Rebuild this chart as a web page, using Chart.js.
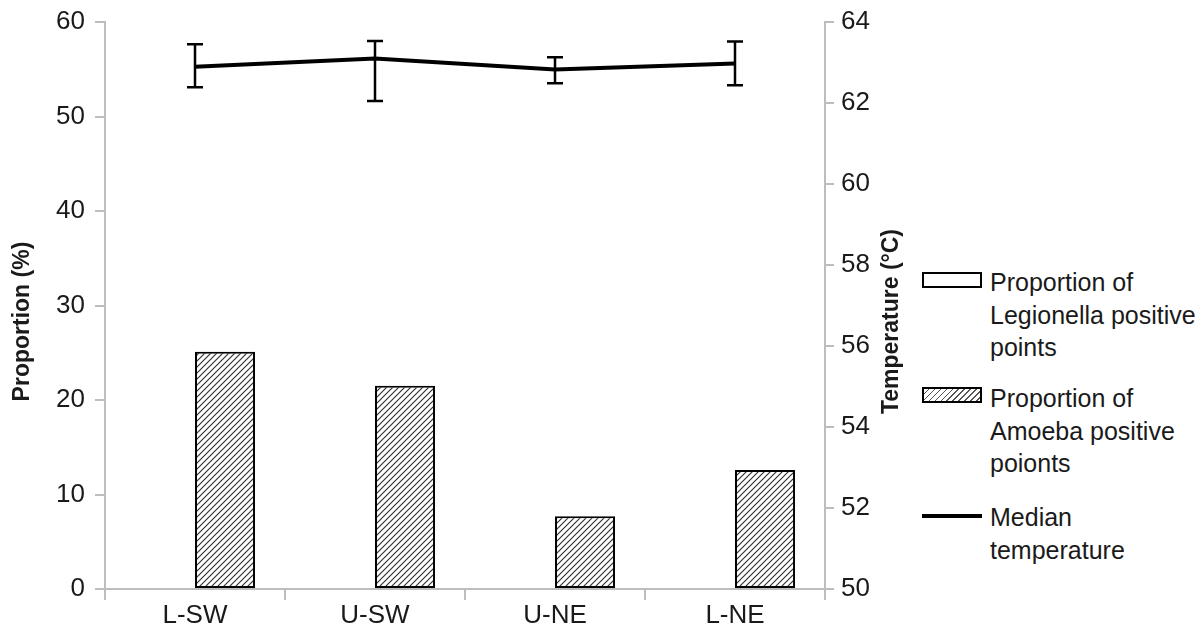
<!DOCTYPE html>
<html>
<head>
<meta charset="utf-8">
<script src="https://cdn.jsdelivr.net/npm/chart.js@4"></script>
<style>
  body { margin: 0; background: #fff; font-family: "Liberation Sans", Arial, sans-serif; }
  #wrap { position: relative; width: 1204px; height: 636px; }
  #box { position: absolute; left: 0; top: 0; width: 915px; height: 636px; }
  .item { position: absolute; left: 922px; font-size: 25px; line-height: 32.5px; color: #1a1a1a; }
  .item .sym { position: absolute; left: 0; width: 60px; height: 16px; box-sizing: border-box; }
  .item .txt { position: absolute; left: 68px; white-space: nowrap; }
</style>
</head>
<body>
<div id="wrap">
  <div id="box"><canvas id="myChart" width="915" height="636"></canvas></div>
  <div id="legend"></div>
</div>
<script>
var labels = ["L-SW", "U-SW", "U-NE", "L-NE"];
var legionella = [0, 0, 0, 0];
var amoeba = [25.1, 21.5, 7.7, 12.6];
var medianTemp = [62.9, 63.1, 62.83, 62.98];
var tempLow = [62.39, 62.05, 62.49, 62.44];
var tempHigh = [63.45, 63.53, 63.13, 63.52];
var leftTicks = [0, 60, 10];
var rightTicks = [50, 64, 2];
var leftTitle = "Proportion (%)";
var rightTitle = "Temperature (°C)";

// hatch fill
function makeHatch() {
  var c = document.createElement("canvas");
  c.width = 6;
  c.height = 6;
  var g = c.getContext("2d");
  g.fillStyle = "#fff";
  g.fillRect(0, 0, 6, 6);
  g.strokeStyle = "#333";
  g.lineWidth = 1.2;
  g.beginPath();
  g.moveTo(0, 6); g.lineTo(6, 0);
  g.moveTo(-1, 1); g.lineTo(1, -1);
  g.moveTo(5, 7); g.lineTo(7, 5);
  g.stroke();
  return g.createPattern(c, "repeat");
}
var hatch = makeHatch();

var errorBars = {
  id: "errorBars",
  afterDatasetsDraw: function (chart) {
    var meta = chart.getDatasetMeta(2);
    var ys = chart.scales.y2;
    var ctx = chart.ctx;
    ctx.save();
    ctx.strokeStyle = "#000";
    ctx.lineWidth = 2.5;
    meta.data.forEach(function (pt, i) {
      var top = ys.getPixelForValue(tempHigh[i]);
      var bot = ys.getPixelForValue(tempLow[i]);
      ctx.beginPath();
      ctx.moveTo(pt.x, top); ctx.lineTo(pt.x, bot);
      ctx.moveTo(pt.x - 8, top); ctx.lineTo(pt.x + 8, top);
      ctx.moveTo(pt.x - 8, bot); ctx.lineTo(pt.x + 8, bot);
      ctx.stroke();
    });
    ctx.restore();
  }
};

// both axis titles read bottom to top, like the original
var axisTitles = {
  id: "axisTitles",
  afterDraw: function (chart) {
    var ctx = chart.ctx;
    var a = chart.chartArea;
    var cy = (a.top + a.bottom) / 2 + 16;
    ctx.save();
    ctx.fillStyle = "#1a1a1a";
    ctx.font = "bold 23px 'Liberation Sans', Arial, sans-serif";
    ctx.textAlign = "center";
    ctx.textBaseline = "middle";
    [[chart.scales.y.left + 23, leftTitle], [chart.scales.y2.left + 67, rightTitle]].forEach(function (t) {
      ctx.save();
      ctx.translate(t[0], cy);
      ctx.rotate(-Math.PI / 2);
      ctx.fillText(t[1], 0, 0);
      ctx.restore();
    });
    ctx.restore();
  }
};

var axisGrey = "#bdbdbd";
var fam = "'Liberation Sans', Arial, sans-serif";
var xFont = { family: fam, size: 26 };
var yFont = { family: fam, size: 26, lineHeight: 0.93 };

var ctx = document.getElementById("myChart");
var myChart = new Chart(ctx, {
  type: "bar",
  data: {
    labels: labels,
    datasets: [
      {
        label: "Proportion of Legionella positive points",
        data: legionella,
        backgroundColor: "#fff",
        borderColor: "#000",
        borderWidth: 0,
        yAxisID: "y",
        order: 2,
      },
      {
        label: "Proportion of Amoeba positive poionts",
        data: amoeba,
        backgroundColor: hatch,
        borderColor: "#000",
        borderWidth: 2,
        borderSkipped: false,
        yAxisID: "y",
        order: 2,
      },
      {
        type: "line",
        label: "Median temperature",
        data: medianTemp,
        borderColor: "#000",
        borderWidth: 4,
        pointRadius: 0,
        tension: 0,
        fill: false,
        yAxisID: "y2",
        order: 0,
      },
    ],
  },
  options: {
    responsive: false,
    animation: false,
    events: [],
    layout: { padding: { top: 22, left: 0, right: 0, bottom: 0 } },
    plugins: { legend: { display: false }, tooltip: { enabled: false } },
    datasets: { bar: { categoryPercentage: 0.667, barPercentage: 1.0 } },
    scales: {
      x: {
        offset: true,
        grid: { drawOnChartArea: false, color: axisGrey, tickLength: 11, lineWidth: 2 },
        border: { color: axisGrey, width: 2 },
        ticks: { color: "#1a1a1a", font: xFont, padding: 0 },
        afterFit: function (s) { s.height = 47; },
      },
      y: {
        position: "left",
        min: leftTicks[0],
        max: leftTicks[1],
        grid: { drawOnChartArea: false, color: axisGrey, tickLength: 10, lineWidth: 2 },
        border: { color: axisGrey, width: 2 },
        ticks: { stepSize: leftTicks[2], color: "#1a1a1a", font: yFont, padding: 10 },
        afterFit: function (s) { s.width = 105; },
      },
      y2: {
        position: "right",
        min: rightTicks[0],
        max: rightTicks[1],
        grid: { drawOnChartArea: false, color: axisGrey, tickLength: 9, lineWidth: 2 },
        border: { color: axisGrey, width: 2 },
        ticks: { stepSize: rightTicks[2], color: "#1a1a1a", font: yFont, padding: 7 },
        afterFit: function (s) { s.width = 90; },
      },
    },
  },
  plugins: [errorBars, axisTitles],
});

// legend built to match the dataset labels
var legendRows = [
  { top: 266, lines: ["Proportion of", "Legionella positive", "points"], sym: "box", symTop: 6 },
  { top: 382, lines: ["Proportion of", "Amoeba positive", "poionts"], sym: "hatch", symTop: 5 },
  { top: 501, lines: ["Median", "temperature"], sym: "line", symTop: 13 },
];
var legendEl = document.getElementById("legend");
legendRows.forEach(function (r) {
  var item = document.createElement("div");
  item.className = "item";
  item.style.top = r.top + "px";
  var sym = document.createElement("div");
  sym.className = "sym";
  sym.style.top = r.symTop + "px";
  if (r.sym === "box") {
    sym.style.border = "2px solid #000";
    sym.style.background = "#fff";
  } else if (r.sym === "hatch") {
    sym.style.border = "2px solid #000";
    sym.style.background = "repeating-linear-gradient(135deg, #fff 0px, #fff 3px, #555 3px, #555 4.2px)";
  } else {
    sym.style.height = "3.5px";
    sym.style.background = "#000";
  }
  var txt = document.createElement("div");
  txt.className = "txt";
  txt.innerHTML = r.lines.join("<br>");
  item.appendChild(sym);
  item.appendChild(txt);
  legendEl.appendChild(item);
});
</script>
</body>
</html>
